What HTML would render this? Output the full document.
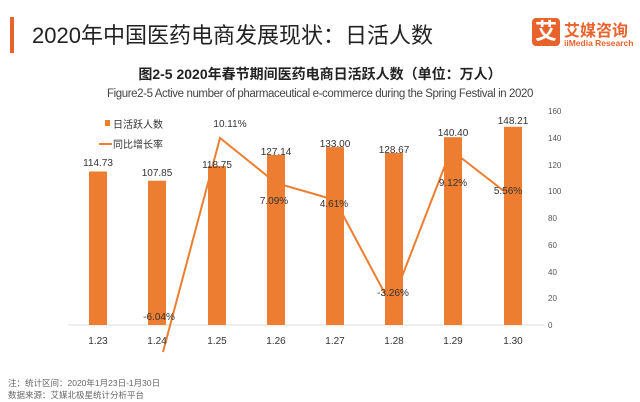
<!DOCTYPE html>
<html><head><meta charset="utf-8"><style>
body{margin:0;width:640px;height:402px;background:#fff;overflow:hidden;font-family:"Liberation Sans","Noto Sans CJK SC",sans-serif;position:relative}
.a{position:absolute;white-space:nowrap}
</style></head><body>
<div class="a" style="left:10px;top:17px;width:4px;height:36px;background:#e8622c"></div>
<div class="a" style="left:32px;top:18px;font-size:22px;color:#222">2020年中国医药电商发展现状：日活人数</div>
<div class="a" style="left:532px;top:18px;width:28px;height:28px;background:#e8622c;border-radius:4px;color:#fff;font-size:22px;line-height:28px;text-align:center;font-weight:bold">艾</div>
<div class="a" style="left:564px;top:17px;font-size:16px;color:#e8622c;font-weight:bold">艾媒咨询</div>
<div class="a" style="left:564px;top:38px;font-size:8.5px;color:#e8622c;font-weight:bold">iiMedia Research</div>
<div class="a" style="left:0;width:640px;top:64px;text-align:center;font-size:14px;font-weight:bold;color:#222">图2-5 2020年春节期间医药电商日活跃人数（单位：万人）</div>
<div class="a" style="left:0;width:640px;top:88px;text-align:center;font-size:11.5px;color:#444;letter-spacing:-0.4px">Figure2-5 Active number of pharmaceutical e-commerce during the Spring Festival in 2020</div>
<svg class="a" style="left:0;top:0" width="640" height="402" font-family="Liberation Sans,Noto Sans CJK SC,sans-serif">
<line x1="68" y1="325" x2="545" y2="325" stroke="#ddd"/>
<g fill="#ed7d31">
<rect x="89" y="171.5" width="18" height="153.5"/>
<rect x="148" y="180.7" width="18" height="144.3"/>
<rect x="208" y="166.1" width="18" height="158.9"/>
<rect x="267" y="155" width="18" height="170"/>
<rect x="326" y="147.1" width="18" height="177.9"/>
<rect x="385" y="152.9" width="18" height="172.1"/>
<rect x="444" y="137.2" width="18" height="187.8"/>
<rect x="504" y="126.8" width="18" height="198.2"/>
</g>
<polyline fill="none" stroke="#ed7d31" stroke-width="2" points="163,352 220,138 276,183 335,200 391,305 451,150 509,195"/>
<g font-size="10" fill="#333" text-anchor="middle">
<text x="98" y="166">114.73</text><text x="157" y="176">107.85</text><text x="217" y="168">118.75</text><text x="276" y="155">127.14</text><text x="335" y="147">133.00</text><text x="394" y="153">128.67</text><text x="453" y="136">140.40</text><text x="513" y="124">148.21</text>
<text x="230" y="127">10.11%</text><text x="274" y="204">7.09%</text><text x="334" y="207">4.61%</text><text x="393" y="296">-3.26%</text><text x="453" y="186">9.12%</text><text x="508" y="194">5.56%</text><text x="159" y="320">-6.04%</text>
<text x="98" y="344">1.23</text><text x="157" y="344">1.24</text><text x="217" y="344">1.25</text><text x="276" y="344">1.26</text><text x="335" y="344">1.27</text><text x="394" y="344">1.28</text><text x="453" y="344">1.29</text><text x="513" y="344">1.30</text>
</g>
<g font-size="8" fill="#555">
<text x="548" y="114">160</text><text x="548" y="141">140</text><text x="548" y="168">120</text><text x="548" y="194">100</text><text x="548" y="221">80</text><text x="548" y="248">60</text><text x="548" y="275">40</text><text x="548" y="301">20</text><text x="548" y="328">0</text>
</g>
<rect x="105" y="120" width="5" height="6" fill="#ed7d31"/>
<text x="113" y="128" font-size="10" fill="#333">日活跃人数</text>
<line x1="99" y1="144" x2="112" y2="144" stroke="#ed7d31" stroke-width="2"/>
<text x="113" y="148" font-size="10" fill="#333">同比增长率</text>
<text x="8" y="386" font-size="8.5" fill="#666">注：统计区间：2020年1月23日-1月30日</text>
<text x="8" y="398" font-size="8.5" fill="#666">数据来源：艾媒北极星统计分析平台</text>
</svg>
</body></html>
